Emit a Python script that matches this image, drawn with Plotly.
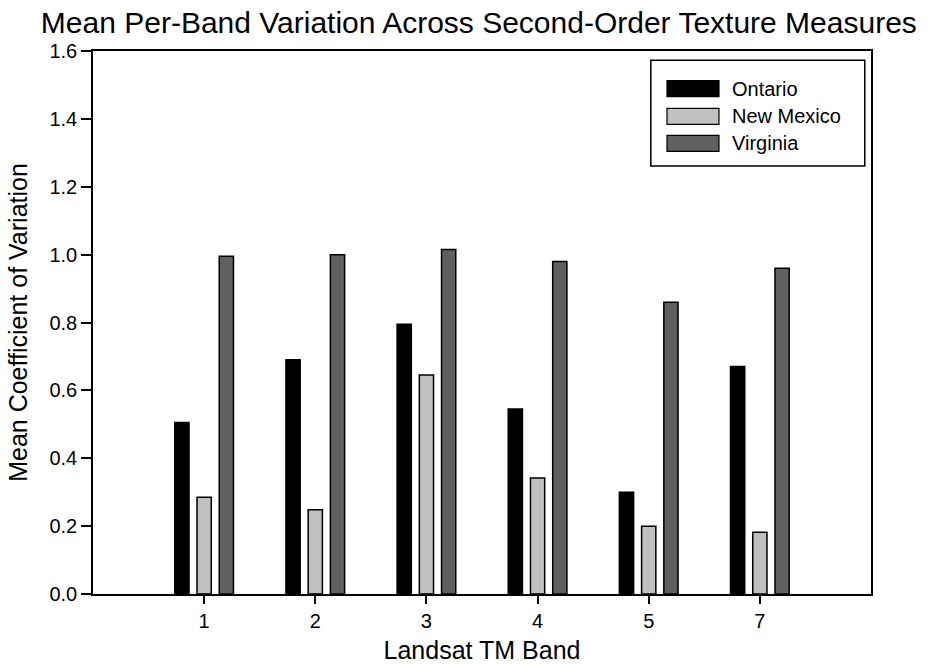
import plotly.graph_objects as go

bands = ["1", "2", "3", "4", "5", "7"]
ontario = [0.505, 0.69, 0.795, 0.545, 0.30, 0.67]
new_mexico = [0.285, 0.248, 0.645, 0.342, 0.20, 0.182]
virginia = [0.995, 1.0, 1.015, 0.98, 0.86, 0.96]

series_names = ["Ontario", "New Mexico", "Virginia"]
series_values = [ontario, new_mexico, virginia]
series_colors = ["#000000", "#c0c0c0", "#606060"]

fig = go.Figure()
for name, vals, col in zip(series_names, series_values, series_colors):
    fig.add_trace(go.Bar(
        x=list(range(len(bands))), y=vals, name=name, showlegend=False,
        marker=dict(color=col, line=dict(color="#000000", width=1.5)),
    ))

# Manual legend (wide swatches like the original)
shapes = [dict(type="rect", xref="paper", yref="paper",
               x0=0.717, x1=0.992, y0=0.788, y1=0.983,
               line=dict(color="#000000", width=1.5), fillcolor="white", layer="above")]
annotations = []
row_y = [0.9306, 0.8796, 0.8298]
for name, col, yc in zip(series_names, series_colors, row_y):
    shapes.append(dict(type="rect", xref="paper", yref="paper",
                       x0=0.7378, x1=0.8046, y0=yc - 0.0147, y1=yc + 0.0147,
                       line=dict(color="#000000", width=1.2), fillcolor=col, layer="above"))
    annotations.append(dict(xref="paper", yref="paper", x=0.8188, y=yc,
                            xanchor="left", yanchor="middle", text=name,
                            showarrow=False, font=dict(size=20)))

font_family = "Liberation Sans, Arial, sans-serif"
fig.update_layout(
    width=928, height=664,
    margin=dict(l=93, r=57, t=51, b=70),
    paper_bgcolor="white", plot_bgcolor="white",
    barmode="group", bargap=0.4, bargroupgap=0.36,
    font=dict(family=font_family, color="#000000", size=20),
    title=dict(text="Mean Per-Band Variation Across Second-Order Texture Measures",
               x=0.516, xanchor="center", y=0.966, yanchor="middle",
               font=dict(size=30)),
    showlegend=False,
    shapes=shapes,
    annotations=annotations,
    xaxis=dict(
        range=[-1, 6], tickmode="array",
        tickvals=list(range(len(bands))), ticktext=bands,
        ticks="outside", ticklen=8, tickwidth=1.5, tickcolor="#000000",
        showline=True, linecolor="#000000", linewidth=1.5, mirror=True,
        showgrid=False, zeroline=False, automargin=False,
        title=dict(text="Landsat TM Band", font=dict(size=25)),
        tickfont=dict(size=20),
    ),
    yaxis=dict(
        range=[0, 1.6], dtick=0.2, tickformat=".1f",
        ticks="outside", ticklen=10, tickwidth=1.5, tickcolor="#000000",
        showline=True, linecolor="#000000", linewidth=1.5, mirror=True,
        showgrid=False, zeroline=False, automargin=False,
        title=dict(text="Mean Coefficient of Variation", font=dict(size=25)),
        tickfont=dict(size=20),
    ),
)

fig.write_html("out.html", config={"displayModeBar": False},
               post_script="document.body.style.margin='0';document.body.style.overflow='hidden';")
